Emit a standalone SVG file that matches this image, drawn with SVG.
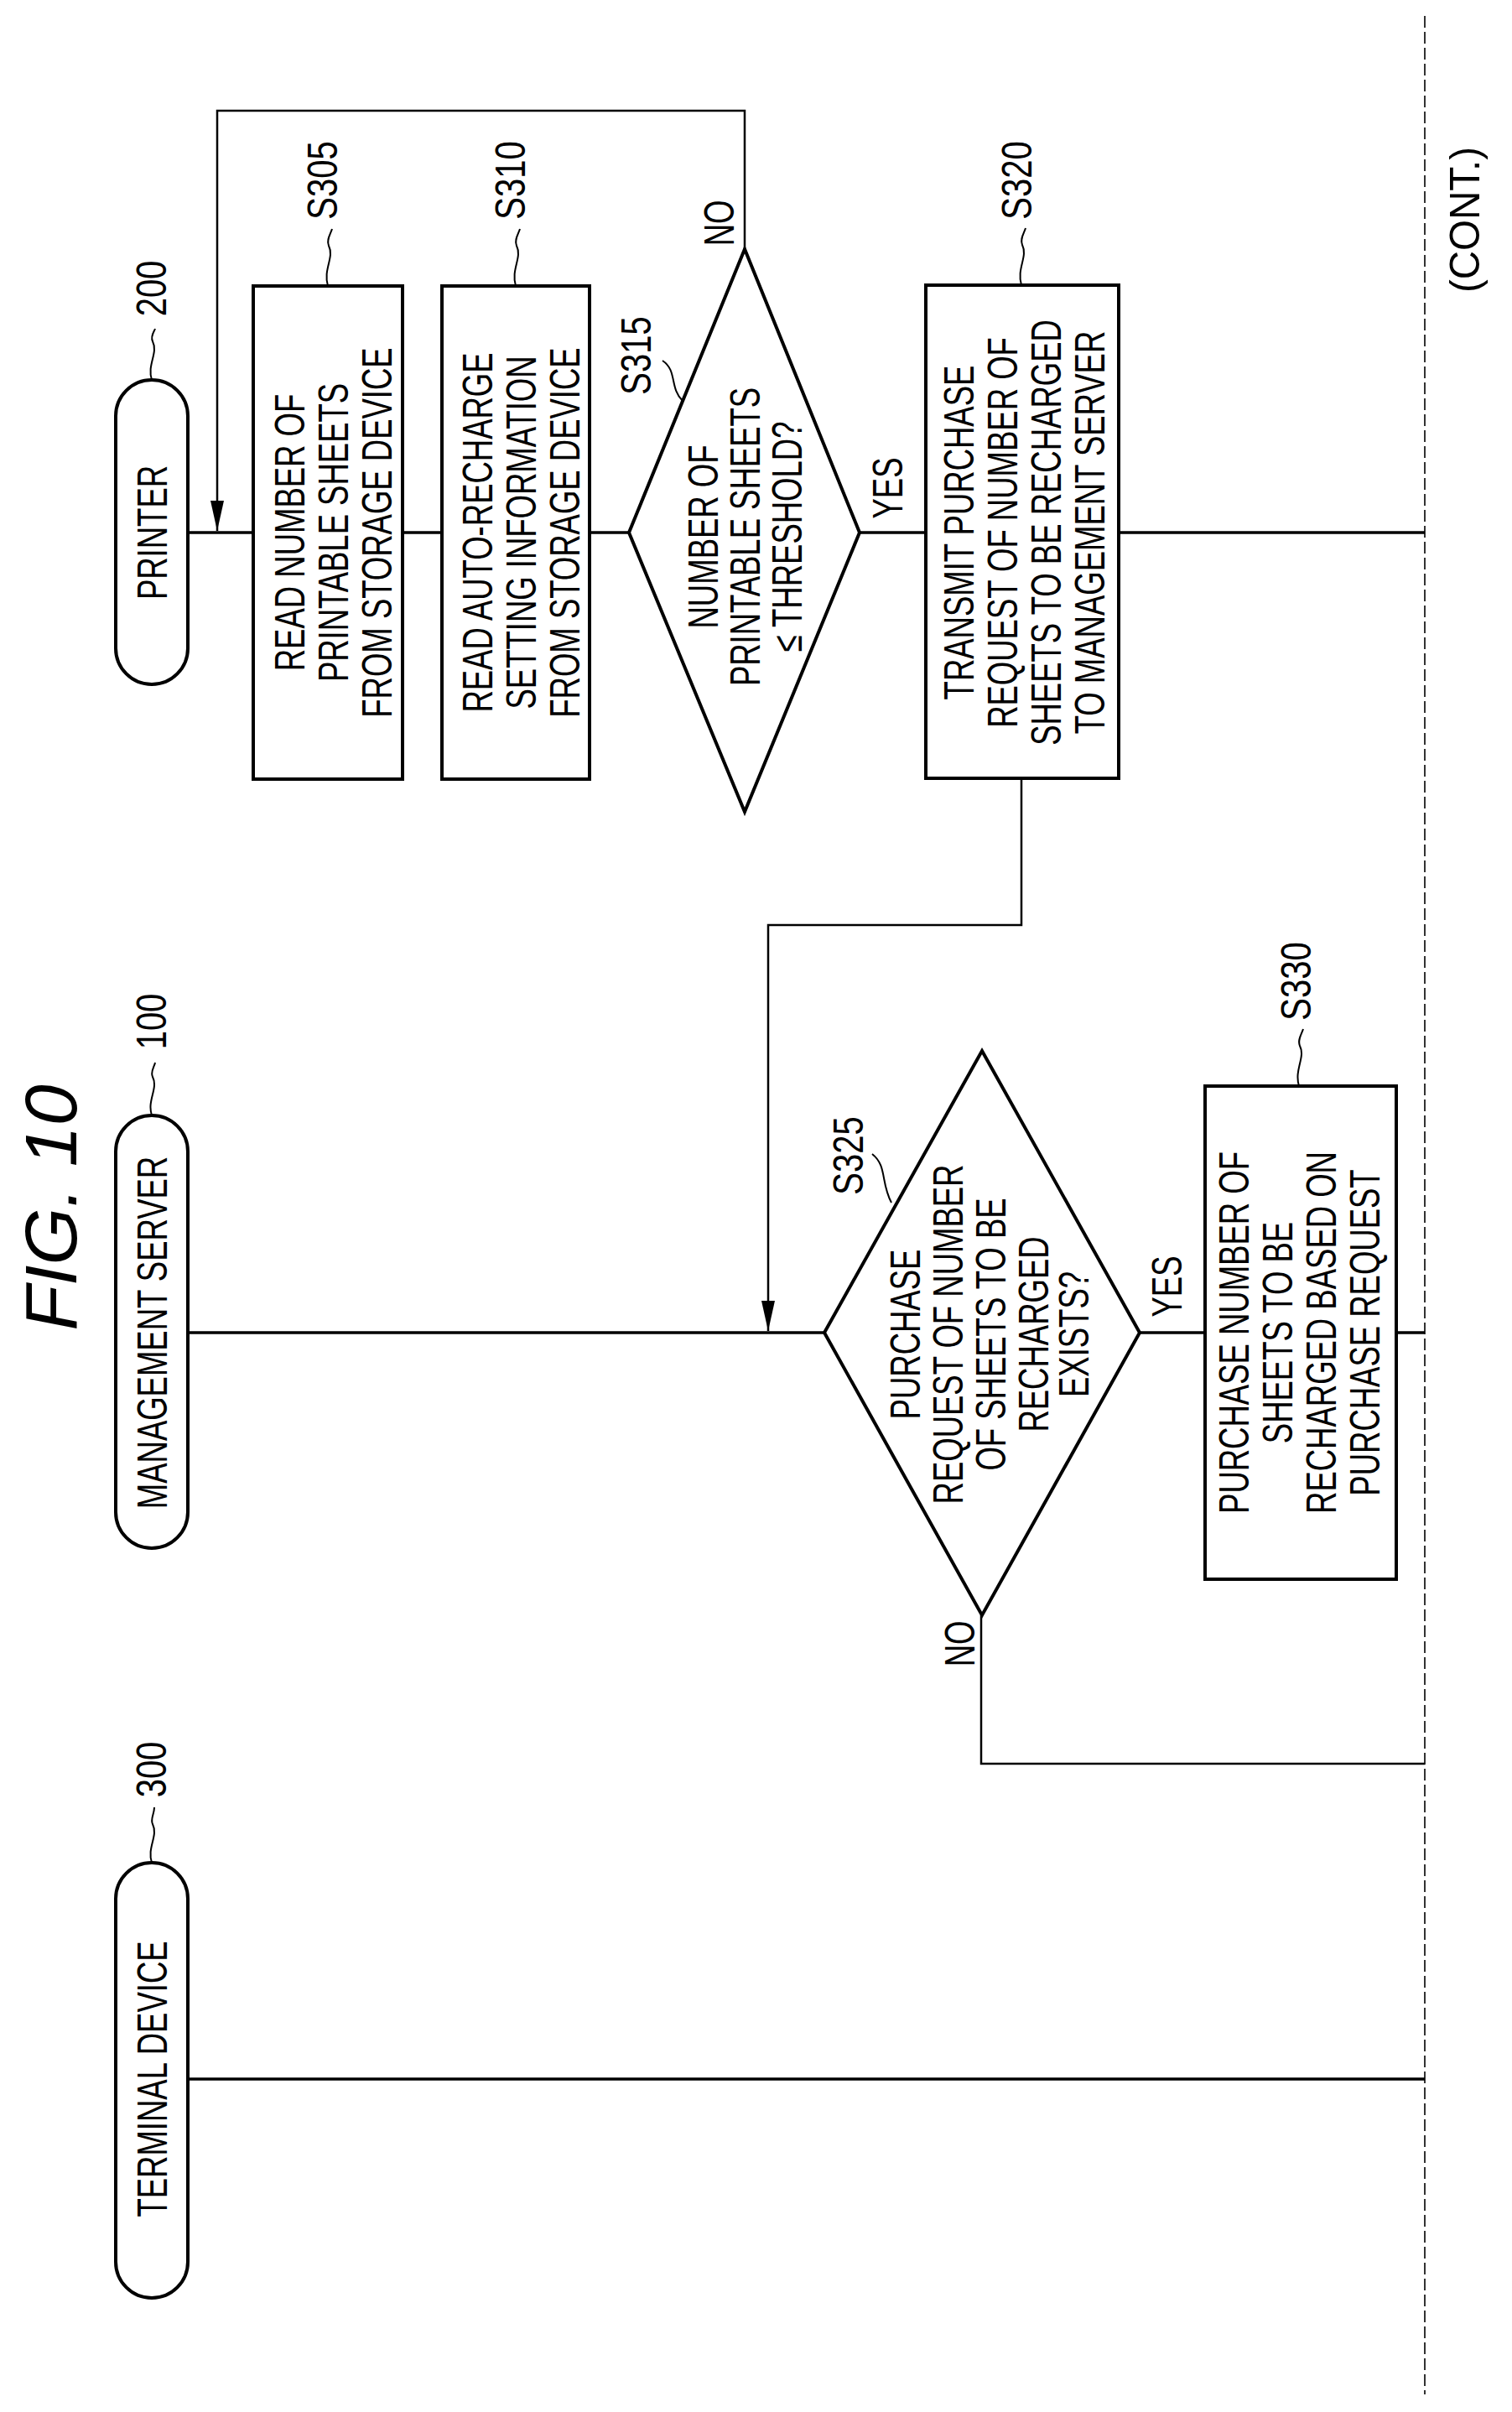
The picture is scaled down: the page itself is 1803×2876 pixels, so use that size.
<svg xmlns="http://www.w3.org/2000/svg" width="1803" height="2876" viewBox="0 0 1803 2876">
<style>
.t{font-family:"Liberation Sans",Arial,sans-serif;font-size:50px;fill:#000;text-anchor:middle;dominant-baseline:central}
.b{fill:#fff;stroke:#000;stroke-width:4}
.l{fill:none;stroke:#000;stroke-width:3.5}
.c{fill:none;stroke:#000;stroke-width:2.5}
.q{fill:none;stroke:#000;stroke-width:2}
</style>
<defs>
<marker id="ah2" viewBox="0 0 10 10" refX="10" refY="5" markerWidth="36" markerHeight="16" markerUnits="userSpaceOnUse" orient="auto" preserveAspectRatio="none"><path d="M0,0 L10,5 L0,10 z" fill="#000"/></marker>
</defs>
<text class="t" transform="translate(60,1440) rotate(-90)" style="font-size:88px;font-style:italic">FIG. 10</text>
<g id="connectors">
<line class="l" x1="224" y1="635" x2="302" y2="635"/>
<line class="l" x1="480" y1="635" x2="527" y2="635"/>
<line class="l" x1="703" y1="635" x2="750" y2="635"/>
<line class="l" x1="1025" y1="635" x2="1104" y2="635"/>
<line class="l" x1="1334" y1="635" x2="1699" y2="635"/>
<polyline class="c" points="888,297 888,132 259,132 259,633" marker-end="url(#ah2)"/>
<polyline class="c" points="1218,928 1218,1103 916,1103 916,1587" marker-end="url(#ah2)"/>
<line class="l" x1="224" y1="1589" x2="983" y2="1589"/>
<line class="l" x1="1359" y1="1589" x2="1437" y2="1589"/>
<line class="l" x1="1665" y1="1589" x2="1699" y2="1589"/>
<polyline class="c" points="1170,1926 1170,2103 1699,2103"/>
<line class="l" x1="224" y1="2479" x2="1699" y2="2479"/>
<line x1="1699" y1="19" x2="1699" y2="2855" stroke="#000" stroke-width="1.6" stroke-dasharray="14 5"/>
</g>
<g id="printer">
<rect class="b" x="138" y="453" width="86" height="363" rx="43"/>
<text class="t" transform="translate(181,635) rotate(-90) scale(0.73,1)">PRINTER</text>
<path class="q" d="M181,453 c-6,-18 8,-32 1,-46 c-3,-6 2,-12 3,-15"/>
<text class="t" transform="translate(181,344) rotate(-90) scale(0.8,1)">200</text>
</g>
<g id="management-server">
<rect class="b" x="138" y="1330" width="86" height="516" rx="43"/>
<text class="t" transform="translate(181,1589) rotate(-90) scale(0.73,1)">MANAGEMENT SERVER</text>
<path class="q" d="M181,1330 c-6,-18 8,-32 1,-46 c-3,-6 2,-12 3,-17"/>
<text class="t" transform="translate(181,1218) rotate(-90) scale(0.8,1)">100</text>
</g>
<g id="terminal-device">
<rect class="b" x="138" y="2221" width="86" height="519" rx="43"/>
<text class="t" transform="translate(181,2479) rotate(-90) scale(0.73,1)">TERMINAL DEVICE</text>
<path class="q" d="M181,2221 c-6,-18 8,-32 1,-46 c-3,-6 2,-12 2,-20"/>
<text class="t" transform="translate(181,2110) rotate(-90) scale(0.8,1)">300</text>
</g>
<g id="s305">
<rect class="b" x="302" y="341" width="178" height="588"/>
<text class="t" transform="translate(397,635) rotate(-90) scale(0.73,1)"><tspan x="0" y="-52">READ NUMBER OF</tspan><tspan x="0" y="0">PRINTABLE SHEETS</tspan><tspan x="0" y="52">FROM STORAGE DEVICE</tspan></text>
<path class="q" d="M391,341 c-6,-20 8,-34 1,-48 c-3,-7 2,-14 4,-20"/>
<text class="t" transform="translate(385,215) rotate(-90) scale(0.8,1)">S305</text>
</g>
<g id="s310">
<rect class="b" x="527" y="341" width="176" height="588"/>
<text class="t" transform="translate(621,635) rotate(-90) scale(0.73,1)"><tspan x="0" y="-52">READ AUTO-RECHARGE</tspan><tspan x="0" y="0">SETTING INFORMATION</tspan><tspan x="0" y="52">FROM STORAGE DEVICE</tspan></text>
<path class="q" d="M615,341 c-6,-20 8,-34 1,-48 c-3,-7 2,-14 4,-20"/>
<text class="t" transform="translate(609,215) rotate(-90) scale(0.8,1)">S310</text>
</g>
<g id="s315">
<polygon class="b" points="888,297 1025,635 888,968 750,635"/>
<text class="t" transform="translate(888,640) rotate(-90) scale(0.73,1)"><tspan x="0" y="-50">NUMBER OF</tspan><tspan x="0" y="0">PRINTABLE SHEETS</tspan><tspan x="0" y="50">≤ THRESHOLD?</tspan></text>
<path class="q" d="M814,478 C798,462 808,442 790,430"/>
<text class="t" transform="translate(759,424) rotate(-90) scale(0.8,1)">S315</text>
<text class="t" transform="translate(857,266) rotate(-90) scale(0.73,1)">NO</text>
<text class="t" transform="translate(1058,582) rotate(-90) scale(0.73,1)">YES</text>
</g>
<g id="s320">
<rect class="b" x="1104" y="340" width="230" height="588"/>
<text class="t" transform="translate(1221,635) rotate(-90) scale(0.73,1)"><tspan x="0" y="-78">TRANSMIT PURCHASE</tspan><tspan x="0" y="-26">REQUEST OF NUMBER OF</tspan><tspan x="0" y="26">SHEETS TO BE RECHARGED</tspan><tspan x="0" y="78">TO MANAGEMENT SERVER</tspan></text>
<path class="q" d="M1218,340 c-6,-20 8,-34 1,-48 c-3,-7 2,-14 4,-20"/>
<text class="t" transform="translate(1213,215) rotate(-90) scale(0.8,1)">S320</text>
</g>
<g id="s325">
<polygon class="b" points="1171,1253 1359,1589 1171,1926 983,1589"/>
<text class="t" transform="translate(1181,1591) rotate(-90) scale(0.73,1)"><tspan x="0" y="-102">PURCHASE</tspan><tspan x="0" y="-51">REQUEST OF NUMBER</tspan><tspan x="0" y="0">OF SHEETS TO BE</tspan><tspan x="0" y="51">RECHARGED</tspan><tspan x="0" y="99">EXISTS?</tspan></text>
<path class="q" d="M1063,1434 C1050,1410 1058,1390 1040,1376"/>
<text class="t" transform="translate(1012,1378) rotate(-90) scale(0.8,1)">S325</text>
<text class="t" transform="translate(1391,1534) rotate(-90) scale(0.73,1)">YES</text>
<text class="t" transform="translate(1144,1960) rotate(-90) scale(0.73,1)">NO</text>
</g>
<g id="s330">
<rect class="b" x="1437" y="1295" width="228" height="588"/>
<text class="t" transform="translate(1549,1589) rotate(-90) scale(0.73,1)"><tspan x="0" y="-78">PURCHASE NUMBER OF</tspan><tspan x="0" y="-26">SHEETS TO BE</tspan><tspan x="0" y="26">RECHARGED BASED ON</tspan><tspan x="0" y="78">PURCHASE REQUEST</tspan></text>
<path class="q" d="M1549,1295 c-6,-20 8,-34 1,-48 c-3,-7 2,-14 4,-20"/>
<text class="t" transform="translate(1546,1170) rotate(-90) scale(0.8,1)">S330</text>
</g>
<text class="t" transform="translate(1747,262) rotate(-90) scale(0.95,1)">(CONT.)</text>
</svg>
